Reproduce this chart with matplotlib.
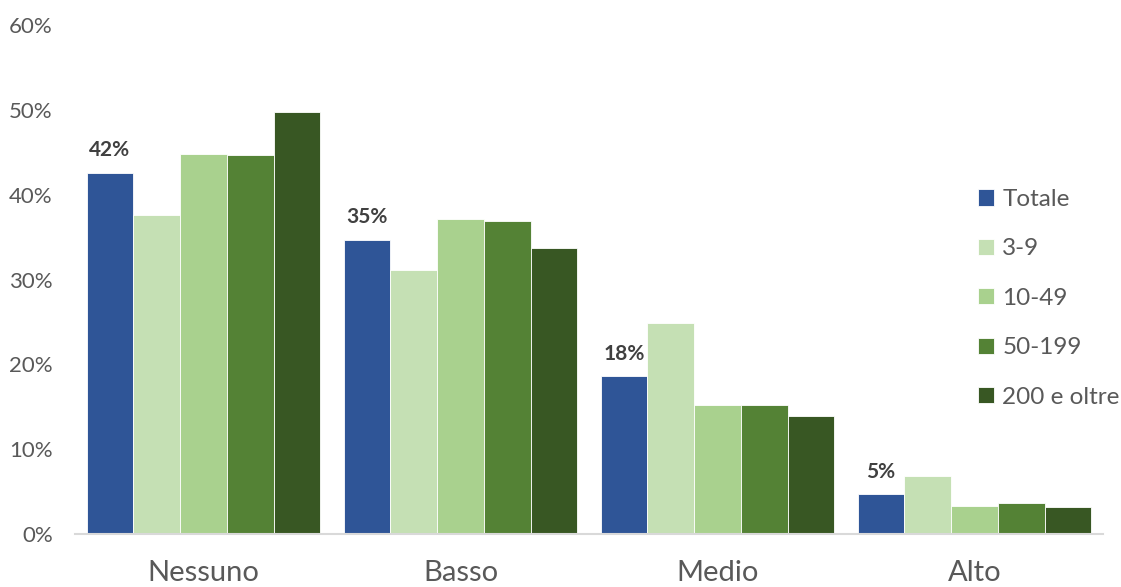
import matplotlib
matplotlib.use("Agg")
import matplotlib.pyplot as plt
import numpy as np

categories = ["Nessuno", "Basso", "Medio", "Alto"]
series_names = ["Totale", "3-9", "10-49", "50-199", "200 e oltre"]
totale = [42.6, 34.7, 18.6, 4.7]
s_3_9 = [37.6, 31.1, 24.9, 6.8]
s_10_49 = [44.8, 37.1, 15.2, 3.3]
s_50_199 = [44.7, 36.9, 15.2, 3.7]
s_200 = [49.8, 33.7, 13.9, 3.2]
totale_labels = ["42%", "35%", "18%", "5%"]
yticks = [0, 10, 20, 30, 40, 50, 60]

colors = ["#2F5597", "#C5E0B4", "#A9D18E", "#548235", "#385723"]
series = [totale, s_3_9, s_10_49, s_50_199, s_200]

plt.rcParams['font.family'] = ['Lato', 'DejaVu Sans']

fig = plt.figure(figsize=(11.21, 5.87), dpi=100)
ax = fig.add_axes([75/1121, 1-534/587, (1103-75)/1121, (534-25)/587])

x = np.arange(len(categories))
w = 0.182
for j, (vals, name, c) in enumerate(zip(series, series_names, colors)):
    bars = ax.bar(x + (j - 2) * w, vals, w, color=c, label=name,
                  edgecolor="white", linewidth=0.6)
    if j == 0:
        for b, lab in zip(bars, totale_labels):
            ax.annotate(lab, (b.get_x() + b.get_width() / 2, b.get_height()),
                        xytext=(0, 9), textcoords="offset points",
                        ha="center", va="bottom", fontsize=15,
                        fontweight="bold", color="#404040")

ax.set_xlim(-0.5, 3.5)
ax.set_ylim(0, 60)
ax.set_yticks(yticks)
ax.set_yticklabels([f"{t}%" for t in yticks])
ax.set_xticks(x)
ax.set_xticklabels(categories)
for s in ["top", "right", "left"]:
    ax.spines[s].set_visible(False)
ax.spines["bottom"].set_color("#D9D9D9")
ax.spines["bottom"].set_linewidth(1.5)
ax.tick_params(axis="y", length=0, labelsize=16, labelcolor="#595959", pad=16)
ax.tick_params(axis="x", length=0, labelsize=21, labelcolor="#595959", pad=19)

leg = fig.legend(loc="upper left", bbox_to_anchor=(978/1121, 1-189/587),
                 frameon=False, fontsize=17.5, labelcolor="#595959",
                 handlelength=0.65, handleheight=0.65, handletextpad=0.35,
                 labelspacing=1.17, borderpad=0, borderaxespad=0)

fig.savefig("out.png", dpi=100)
